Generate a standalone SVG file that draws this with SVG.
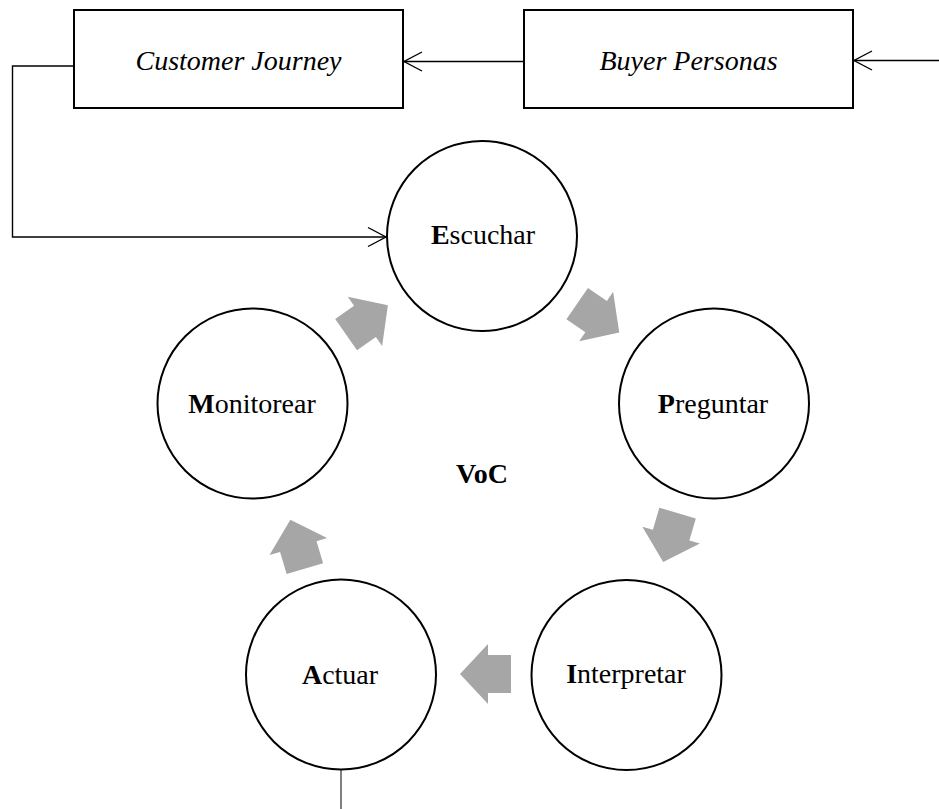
<svg xmlns="http://www.w3.org/2000/svg" width="939" height="809" viewBox="0 0 939 809">
<style>
.box{fill:#fff;stroke:#000;stroke-width:2}
.node{fill:#fff;stroke:#000;stroke-width:2}
.lbl{font-family:"Liberation Serif","Times New Roman",serif;font-size:28px;fill:#000;text-anchor:middle}
.it{font-style:italic}
.b{font-weight:bold}
.conn{fill:none;stroke:#000;stroke-width:1.4}
.flow{fill:#a6a6a6}
</style>
<defs>
<marker id="open" markerUnits="userSpaceOnUse" markerWidth="24" markerHeight="24" viewBox="-20 -12 22 24" refX="0" refY="0" orient="auto">
<path d="M-18,-9.5 L0,0 L-18,9.5" fill="none" stroke="#000" stroke-width="1.4"/>
</marker>
<polygon id="fat" points="-25.5,-19 -2.5,-19 -2.5,-30 25.5,0 -2.5,30 -2.5,19 -25.5,19"/>
</defs>
<g id="connectors">
<line class="conn" x1="939" y1="60.5" x2="854" y2="60.5" marker-end="url(#open)"/>
<line class="conn" x1="524" y1="61.5" x2="404" y2="61.5" marker-end="url(#open)"/>
<polyline class="conn" points="74,66 12.5,66 12.5,237 386,237" marker-end="url(#open)"/>
<line x1="341" y1="770" x2="341" y2="809" stroke="#000" stroke-width="1"/>
<use href="#fat" class="flow" transform="translate(598.2,318) rotate(34.5)"/>
<use href="#fat" class="flow" transform="translate(670.4,537.5) rotate(106.4)"/>
<use href="#fat" class="flow" transform="translate(485.5,674) rotate(180)"/>
<use href="#fat" class="flow" transform="translate(297.6,544.2) rotate(253.5)"/>
<use href="#fat" class="flow" transform="translate(367,320) rotate(-35)"/>
</g>
<g id="customer-journey">
<rect class="box" x="74" y="10" width="329" height="98"/>
<text class="lbl it" x="238.5" y="70">Customer Journey</text>
</g>
<g id="buyer-personas">
<rect class="box" x="524" y="10" width="329" height="98"/>
<text class="lbl it" x="688.5" y="70">Buyer Personas</text>
</g>
<g id="escuchar">
<circle class="node" cx="482" cy="236" r="95"/>
<text class="lbl" x="483" y="244"><tspan class="b">E</tspan>scuchar</text>
</g>
<g id="preguntar">
<circle class="node" cx="714" cy="403.5" r="95"/>
<text class="lbl" x="713" y="413"><tspan class="b">P</tspan>reguntar</text>
</g>
<g id="interpretar">
<circle class="node" cx="626.5" cy="675" r="95"/>
<text class="lbl" x="626" y="683"><tspan class="b">I</tspan>nterpretar</text>
</g>
<g id="actuar">
<circle class="node" cx="341" cy="674.5" r="95"/>
<text class="lbl" x="340" y="684"><tspan class="b">A</tspan>ctuar</text>
</g>
<g id="monitorear">
<circle class="node" cx="252.5" cy="403.5" r="95"/>
<text class="lbl" x="252" y="413"><tspan class="b">M</tspan>onitorear</text>
</g>
<g id="voc">
<text class="lbl b" x="482" y="483">VoC</text>
</g>
</svg>
